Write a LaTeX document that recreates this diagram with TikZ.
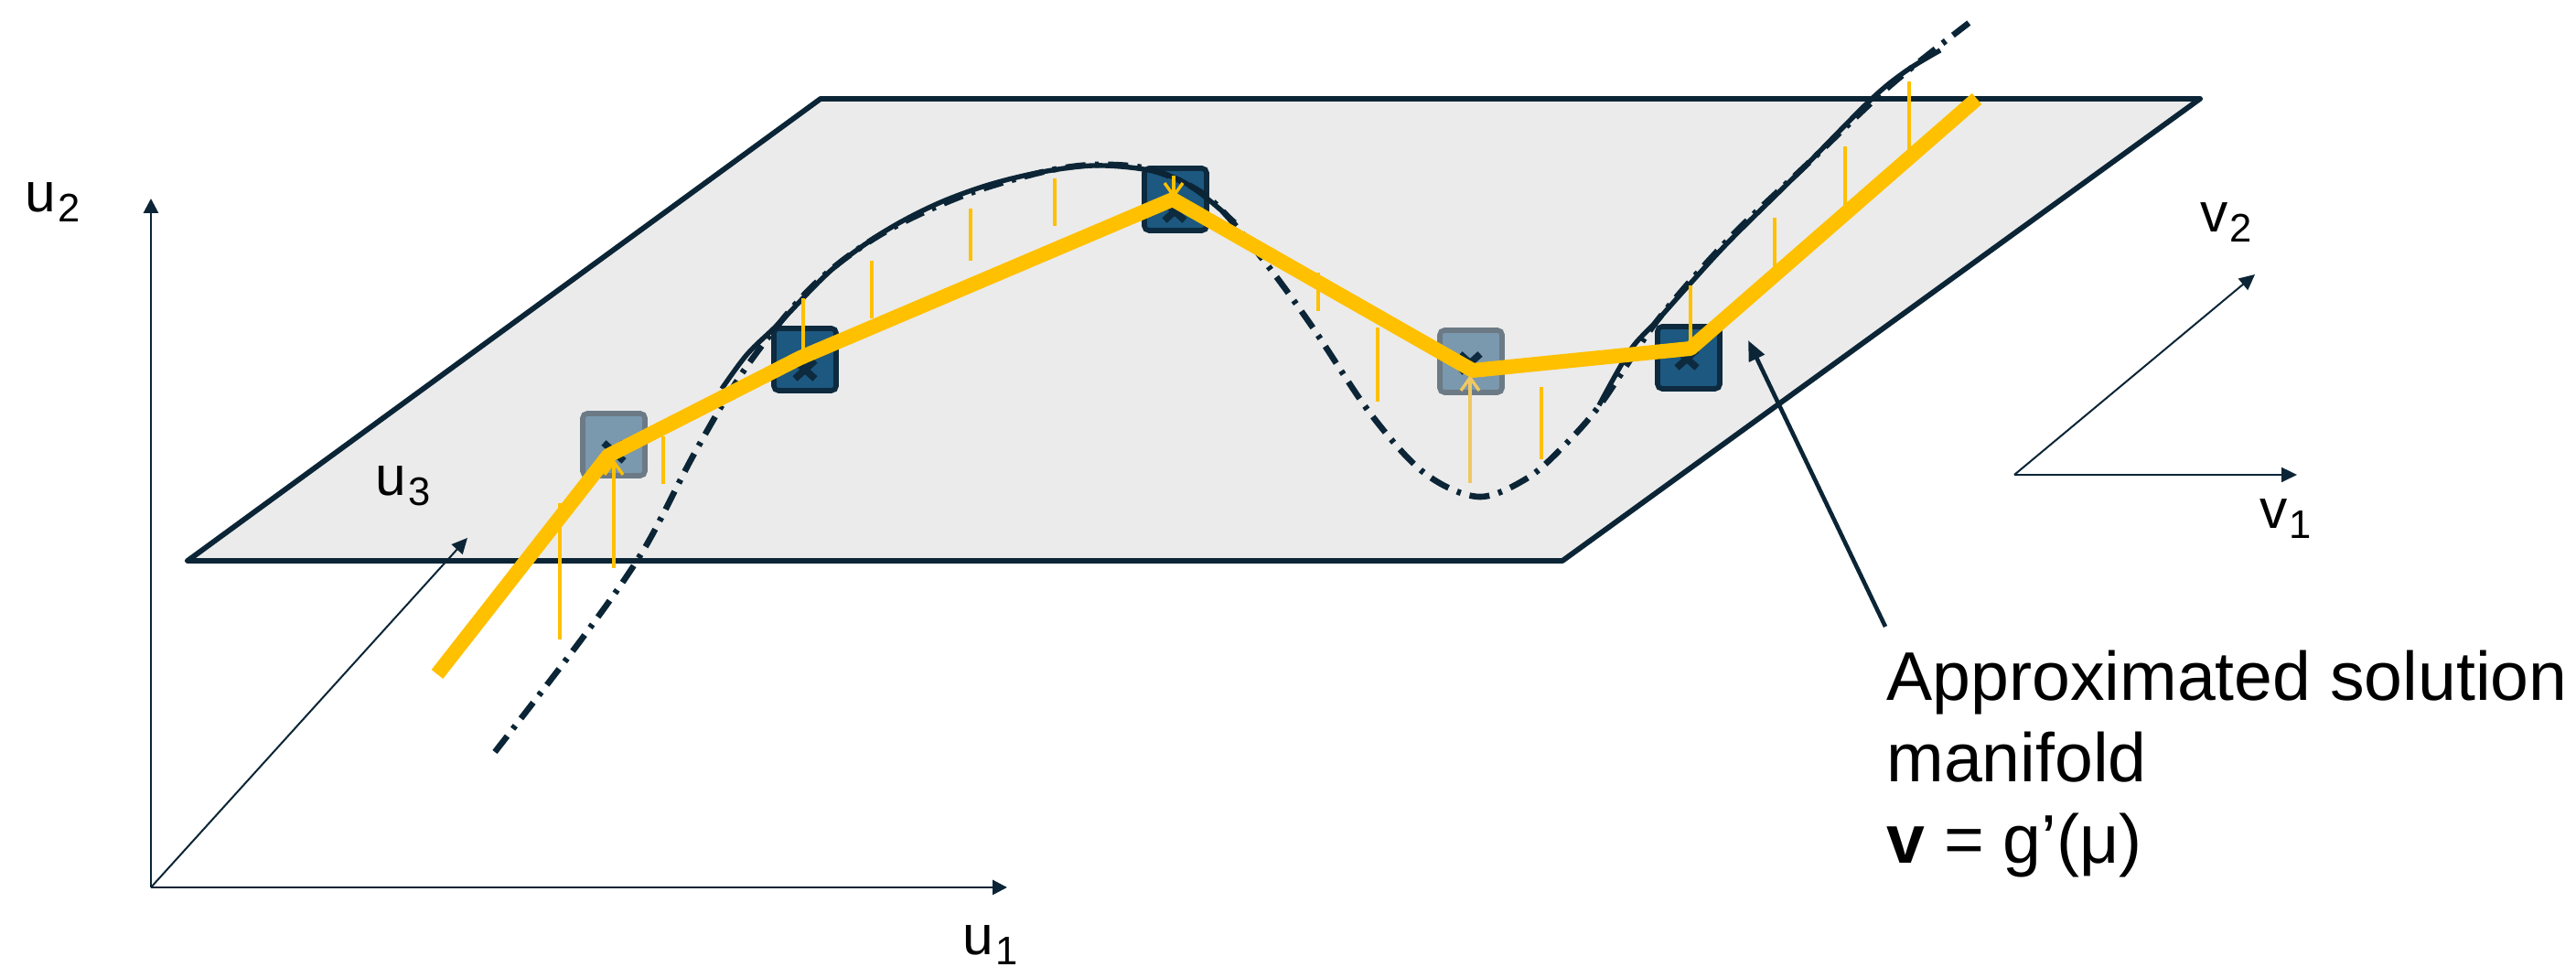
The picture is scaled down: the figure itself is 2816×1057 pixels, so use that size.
\documentclass[tikz,border=0pt]{standalone}
\usepackage{fontspec}
\setmainfont{Liberation Sans}
\usetikzlibrary{arrows.meta}

\definecolor{ink}{HTML}{0B2536}
\definecolor{sheet}{HTML}{EBEBEB}
\definecolor{amber}{HTML}{FFC000}
\definecolor{paleamber}{HTML}{F0C862}
\definecolor{snapfill}{HTML}{1D5880}
\definecolor{snapline}{HTML}{0D2A3E}
\definecolor{ghostfill}{HTML}{7A98AE}
\definecolor{ghostline}{HTML}{6C7A86}

\newcommand{\axname}[2]{#1\kern0.1mm\raisebox{-0.55mm}{\fontsize{6.2}{7}\selectfont #2}}

\tikzset{
  axis/.style={ink,line width=0.14mm,-{Triangle[length=0.8mm,width=0.8mm]}},
  slimaxis/.style={ink,line width=0.1mm,-{Triangle[length=0.85mm,width=0.8mm]}},
  pointer/.style={ink,line width=0.23mm,-{Triangle[length=1.1mm,width=0.9mm]}},
  axlabel/.style={inner sep=0pt,anchor=base west,font=\fontsize{8.6}{10}\selectfont},
  snap/.style={draw=snapline,fill=snapfill,line width=0.28mm,rounded corners=0.25mm,minimum size=3.4mm,inner sep=0pt},
  ghost/.style={snap,draw=ghostline,fill=ghostfill},
  hit/.style={snapline,line width=0.38mm},
  trace/.style={ink,line width=0.27mm},
  truth/.style={ink,line width=0.33mm,dash pattern=on 1.1mm off 0.5mm on 0.22mm off 0.5mm},
  approx/.style={amber,line width=0.8mm,line join=round},
  gap/.style={amber,line width=0.17mm},
  lift/.style={amber,line width=0.17mm,-{Straight Barb[length=0.7mm,width=1mm]}},
}

\begin{document}
\begin{tikzpicture}[x=0.05mm,y=-0.05mm]
\useasboundingbox (0,0) rectangle (2816,1057);

\coordinate (o) at (165,970);
\coordinate (u1) at (1101,970);
\coordinate (u2) at (165,217);
\coordinate (u3) at (511,588);
\draw[axis] (o) -- (u2);
\draw[axis] (o) -- (u1);

\draw[ink,fill=sheet,line width=0.29mm,line join=round] (205,613) -- (897,108) -- (2405,108) -- (1708,613) -- cycle;
\draw[slimaxis] (o) -- (u3);

\node[ghost] (s1) at (671,486) {};
\node[snap] (s2) at (880,393) {};
\node[snap] (s3) at (1285,218) {};
\node[ghost] (s4) at (1608,395) {};
\node[snap] (s5) at (1846,391) {};

\draw[truth] plot[smooth,tension=0.55] coordinates {(541,822) (637,697) (703,602) (760,494) (816,401) (886,315) (960,258) (1050,215) (1140,188) (1200,180) (1260,186) (1322,217) (1380,283) (1433,355) (1498,452) (1557,517) (1616,543) (1669,523) (1710,487) (1751,440) (1812,350) (1891,260) (1975,180) (2067,93) (2159,20)};
\draw[trace] plot[smooth,tension=0.55] coordinates {(789,425) (817,387) (852,353) (909,295) (967,253) (1024,223) (1081,202) (1139,188) (1196,181) (1250,185) (1288,196) (1317,215) (1350,243)};
\draw[trace] plot[smooth,tension=0.55] coordinates {(1748,443) (1782,383) (1812,350) (1845,313) (1891,263) (1968,187) (2044,110) (2083,78) (2121,55)};

\foreach \cx/\cy in {671/494,880/404,1284/231,1607/397,1844/392}
  \draw[hit] (\cx-11,\cy-10) -- (\cx+11,\cy+10) (\cx-11,\cy+10) -- (\cx+11,\cy-10);

\foreach \gx/\ga/\gb in {612/550/699,725/477/529,878/326/395,953/285/348,1061/228/285,1153/195/247,1441/298/340,1506/358/439,1685/423/502,1848/312/380,1940/238/305,2017/160/238,2087/89/180}
  \draw[gap] (\gx,\ga) -- (\gx,\gb);

\draw[lift] (671,621) -- (671,502);
\draw[lift] (1283,192) -- (1283,217);
\draw[lift,paleamber] (1607,528) -- (1607,410);

\coordinate (y0) at (478,737);
\coordinate (y1) at (665,498);
\coordinate (y2) at (875,391);
\coordinate (y3) at (1282,218);
\coordinate (y4) at (1610,405);
\coordinate (y5) at (1848,381);
\coordinate (y6) at (2161,108);
\draw[approx] (y0) -- (y1) -- (y2) -- (y3) -- (y4) -- (y5) -- (y6);

\coordinate (p) at (2202,519);
\coordinate (v1) at (2511,519);
\coordinate (v2) at (2465,300);
\draw[slimaxis] (p) -- (v1);
\draw[slimaxis] (p) -- (v2);

\node[axlabel] (lu2) at (26,232) {\axname{u}{2}};
\node[axlabel] (lu3) at (409,542) {\axname{u}{3}};
\node[axlabel] (lu1) at (1051,1044) {\axname{u}{1}};
\node[axlabel] (lv2) at (2404,254) {\axname{v}{2}};
\node[axlabel] (lv1) at (2469,578) {\axname{v}{1}};

\node[anchor=north west,inner sep=0pt,align=left,font=\fontsize{10.7}{12.6}\selectfont] (note) at (2061,710) {Approximated solution\\manifold\\\textbf{v} = g’(μ)};
\coordinate (aim) at (1911,372);
\draw[pointer] ([yshift=1.25mm]note.north west) -- (aim);
\end{tikzpicture}
\end{document}
